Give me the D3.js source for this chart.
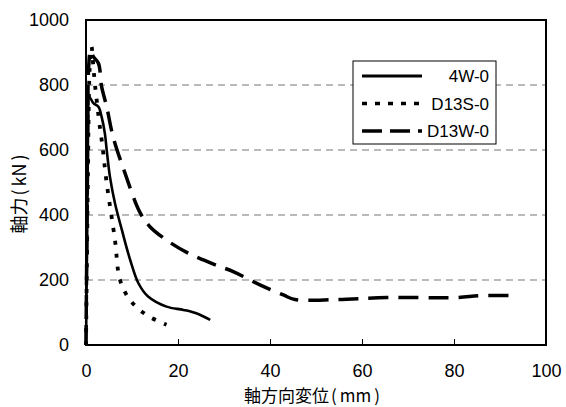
<!DOCTYPE html>
<html>
<head>
<meta charset="utf-8">
<script src="https://cdn.jsdelivr.net/npm/d3@7"></script>
<style>
  body { margin: 0; background: #fff; }
  text { font-family: "Liberation Sans", Arial, sans-serif; fill: #000; }
</style>
</head>
<body>
<div id="chart"></div>
<script>
// data (disp mm, axial force kN)
var s4W = [[0,0],[0.3,400],[0.5,700],[0.7,764],[1.6,744],[2.7,733],[3.4,702],[4.1,651],[4.5,600],
  [5.2,518],[6.3,436],[7.8,354],[9.6,262],[11.4,190],[13.5,149],[17.5,118],[21.2,108],[24.1,97],[27,77]];
var sD13S = [[0,0],[0.4,500],[0.8,850],[1.2,918],[1.6,856],[2,795],[3,672],[3.5,621],[4.5,498],
  [6.3,323],[7.4,200],[9.6,138],[13.2,92],[17.5,62]];
var sD13W = [[0,0],[0.3,500],[0.6,860],[1,907],[1.6,887],[2.7,867],[3.4,795],[4.5,733],[5.9,640],
  [8.5,528],[11.7,409],[13.9,364],[17.5,323],[21.9,285],[28.4,245],[32,226],[37.8,185],[42.9,154],
  [45.4,140],[54.5,140],[65.4,146],[80.6,146],[85.7,152],[93.1,152]];
var seriesNames = ["4W-0", "D13S-0", "D13W-0"];
var xTicks = [0, 20, 40, 60, 80, 100];
var yTicks = [0, 200, 400, 600, 800, 1000];
var gridVals = [200, 400, 600, 800];

var width = 566, height = 407;
var margin = {top: 20, right: 20, bottom: 62, left: 86};
var chartWidth = width - margin.left - margin.right;
var chartHeight = height - margin.top - margin.bottom;

var svg = d3.select('#chart').append('svg')
  .attr('width', width)
  .attr('height', height);
var g = svg.append('g')
  .attr('transform', `translate(${margin.left}, ${margin.top})`);

var xScale = d3.scaleLinear().domain([0, 100]).range([0, chartWidth]);
var yScale = d3.scaleLinear().domain([0, 1000]).range([chartHeight, 0]);

// dashed gridlines
g.selectAll('.grid')
  .data(gridVals)
  .enter().append('line')
  .attr('x1', 0).attr('x2', chartWidth)
  .attr('y1', d => yScale(d)).attr('y2', d => yScale(d))
  .attr('stroke', '#777').attr('stroke-width', 1.2)
  .attr('stroke-dasharray', '7,5');

// x axis: ticks point inward
var xAxis = d3.axisBottom(xScale).tickValues(xTicks).tickFormat(d3.format('d'))
  .tickSizeInner(-6).tickSizeOuter(0).tickPadding(19);
var gx = g.append('g')
  .attr('transform', `translate(0,${chartHeight})`)
  .call(xAxis);
gx.select('.domain').remove();
gx.selectAll('line').attr('stroke', '#000');
gx.selectAll('text').attr('font-size', 18).attr('font-family', '"Liberation Sans", Arial, sans-serif');

var yAxis = d3.axisLeft(yScale).tickValues(yTicks).tickFormat(d3.format('d')).tickSize(0).tickPadding(17);
var gy = g.append('g').call(yAxis);
gy.select('.domain').remove();
gy.selectAll('text').attr('font-size', 18).attr('font-family', '"Liberation Sans", Arial, sans-serif');

// frame
g.append('rect')
  .attr('width', chartWidth).attr('height', chartHeight)
  .attr('fill', 'none').attr('stroke', '#000').attr('stroke-width', 2);

var lineY = d3.line()
  .x(d => xScale(d[0]))
  .y(d => yScale(d[1]))
  .curve(d3.curveCatmullRom);

var styles = [
  {data: s4W, dash: null, w: 2.6},
  {data: sD13S, dash: '4,9', w: 3.8},
  {data: sD13W, dash: '20,10', w: 3.5}
];

g.selectAll('.curve')
  .data(styles)
  .enter().append('path')
  .attr('class', 'curve')
  .attr('d', d => lineY(d.data))
  .attr('fill', 'none')
  .attr('stroke', '#000')
  .attr('stroke-width', d => d.w)
  .attr('stroke-dasharray', d => d.dash);

// legend
var legend = svg.append('g').attr('transform', 'translate(353, 61)');
legend.append('rect')
  .attr('width', 143).attr('height', 83)
  .attr('fill', '#fff').attr('stroke', '#000').attr('stroke-width', 1);
var legStyles = [
  {dash: null, w: 3},
  {dash: '5,8', w: 3.5},
  {dash: '20,8', w: 3.5}
];
legStyles.forEach(function(s, i) {
  var y = 15 + i * 27.5;
  legend.append('line')
    .attr('x1', 9).attr('x2', 69).attr('y1', y).attr('y2', y)
    .attr('stroke', '#000').attr('stroke-width', s.w)
    .attr('stroke-dasharray', s.dash);
  legend.append('text')
    .attr('x', 136).attr('y', y + 6)
    .attr('text-anchor', 'end')
    .attr('font-size', 17)
    .text(seriesNames[i]);
});

// axis titles
var xt = svg.append('text')
  .attr('x', 312)
  .attr('y', 402)
  .attr('text-anchor', 'middle')
  .attr('font-size', 17)
  .style('font-family', '"Noto Sans CJK JP", sans-serif');
xt.append('tspan').text('軸方向変位');
xt.append('tspan').attr('dx', 2).text('(');
xt.append('tspan').attr('dx', 3).text('mm');
xt.append('tspan').attr('dx', 3).text(')');

var yt = svg.append('text')
  .attr('transform', 'translate(26, 194) rotate(-90)')
  .attr('text-anchor', 'middle')
  .attr('font-size', 18)
  .style('font-family', '"Noto Sans CJK JP", sans-serif');
yt.append('tspan').text('軸力');
yt.append('tspan').attr('dx', 2).text('(');
yt.append('tspan').attr('dx', 3).text('kN');
yt.append('tspan').attr('dx', 3).text(')');
</script>
</body>
</html>
